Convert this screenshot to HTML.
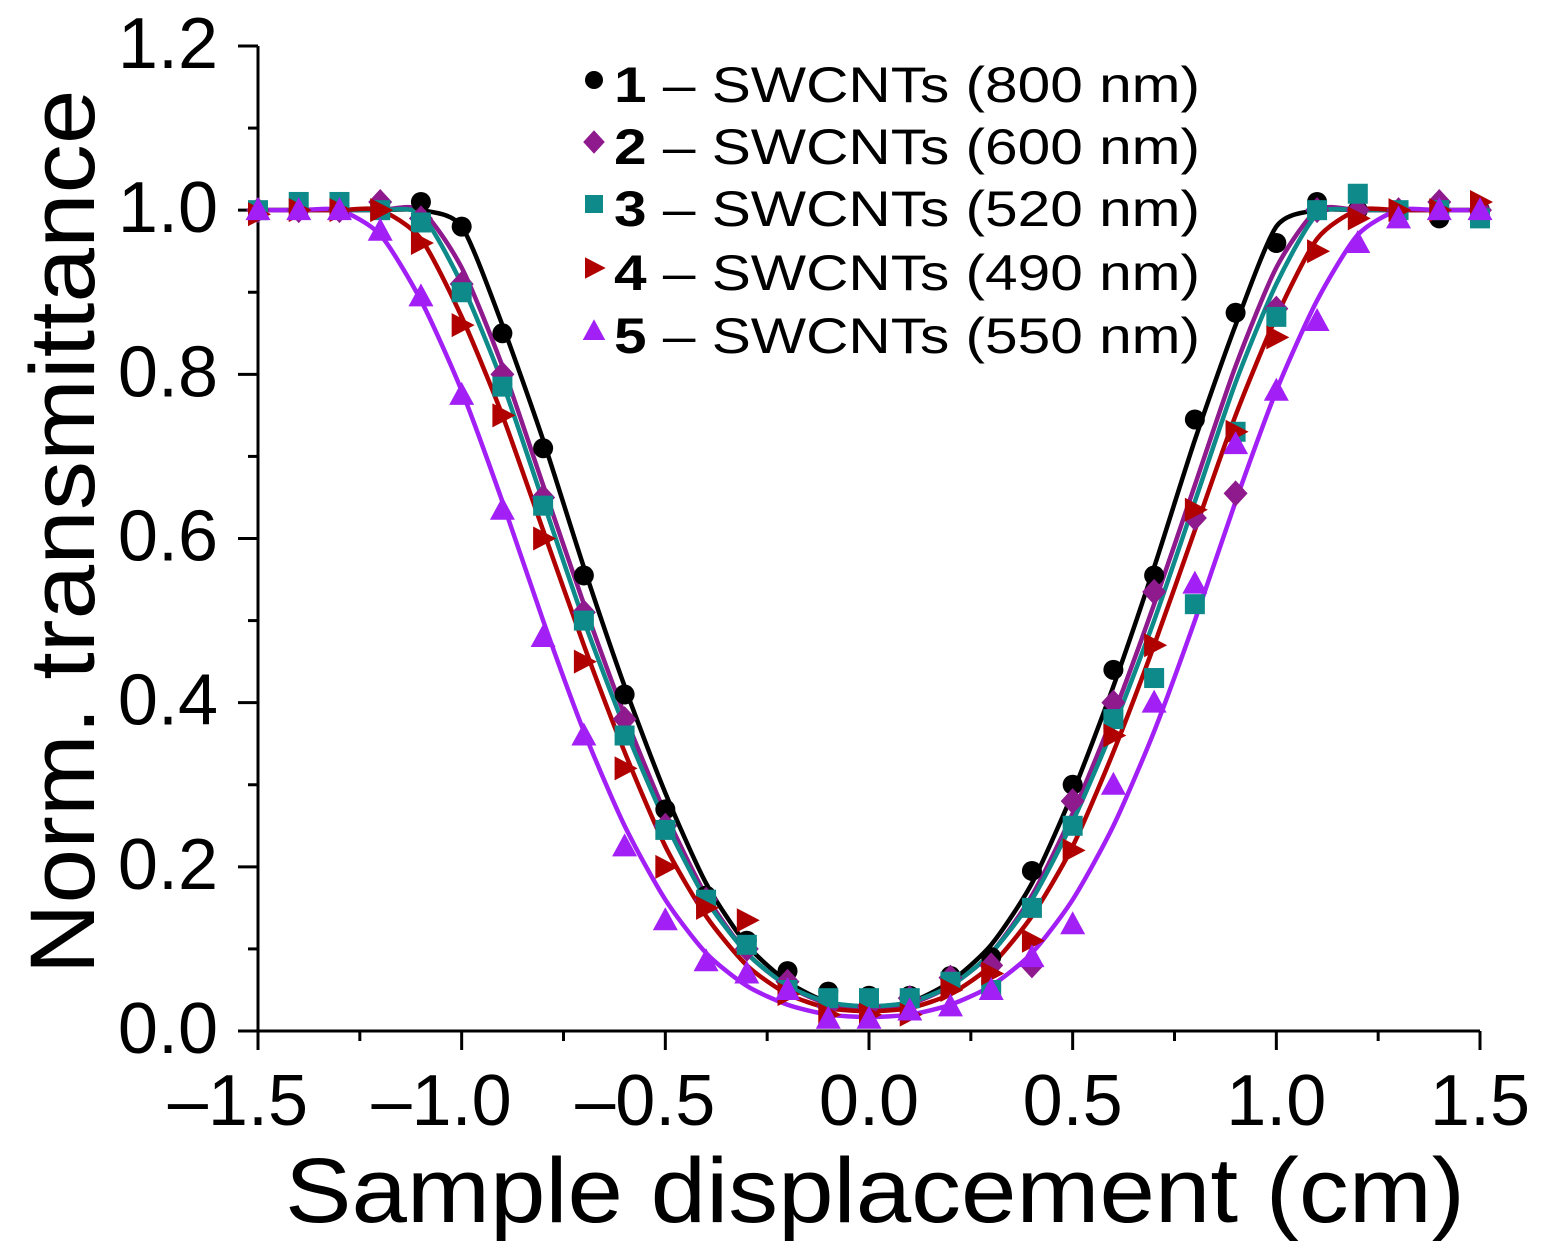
<!DOCTYPE html>
<html><head><meta charset="utf-8"><style>
html,body{margin:0;padding:0;background:#fff;}
svg{display:block;font-family:"Liberation Sans",Arial,sans-serif;}
</style></head><body>
<svg id="chart" width="1547" height="1260" viewBox="0 0 1547 1260">
<g id="axes"></g>
<g id="fits"></g>
<g id="points"></g>
<g id="legend"></g>
<text x="875" y="1222" font-size="92" text-anchor="middle" textLength="1180" lengthAdjust="spacingAndGlyphs">Sample displacement (cm)</text>
<text transform="translate(94,532) rotate(-90)" font-size="92" text-anchor="middle" textLength="885" lengthAdjust="spacingAndGlyphs">Norm. transmittance</text>
</svg>
<script>
const xs=[-1.5,-1.4,-1.3,-1.2,-1.1,-1.0,-0.9,-0.8,-0.7,-0.6,-0.5,-0.4,-0.3,-0.2,-0.1,0,0.1,0.2,0.3,0.4,0.5,0.6,0.7,0.8,0.9,1.0,1.1,1.2,1.3,1.4,1.5];
const data1=[1,1,1,1,1.01,0.98,0.85,0.71,0.555,0.41,0.27,0.165,0.11,0.073,0.048,0.043,0.043,0.067,0.09,0.195,0.30,0.44,0.555,0.745,0.875,0.96,1.01,1,1,0.99,1];
const data2=[1,1,1,1.01,0.99,0.91,0.80,0.65,0.51,0.38,0.25,0.16,0.10,0.06,0.03,0.03,0.04,0.065,0.08,0.08,0.28,0.40,0.535,0.625,0.655,0.88,1.0,1.0,1.0,1.01,1.0];
const data3=[1.0,1.01,1.01,1.0,0.985,0.90,0.785,0.64,0.50,0.36,0.245,0.16,0.105,0.05,0.04,0.04,0.04,0.06,0.05,0.15,0.25,0.38,0.43,0.52,0.73,0.87,1.0,1.02,1.0,1.0,0.99];
const data4=[0.995,1.0,1.0,1.0,0.96,0.86,0.75,0.60,0.45,0.32,0.20,0.15,0.135,0.045,0.02,0.02,0.02,0.05,0.07,0.11,0.22,0.36,0.47,0.635,0.73,0.845,0.95,0.99,1.0,1.0,1.01];
const data5=[1.0,1.0,1.0,0.975,0.895,0.775,0.635,0.48,0.36,0.225,0.135,0.085,0.07,0.05,0.015,0.015,0.025,0.03,0.05,0.09,0.13,0.30,0.40,0.545,0.715,0.78,0.865,0.96,0.99,1.0,1.0];
const fit1=[1,1,1,1,1,0.98,0.86,0.72,0.565,0.42,0.29,0.18,0.105,0.06,0.035,0.03,0.035,0.06,0.105,0.18,0.29,0.42,0.565,0.72,0.86,0.98,1,1,1,1,1];
const fit2=[1,1,1,1,1,0.93,0.81,0.665,0.52,0.385,0.265,0.165,0.095,0.055,0.033,0.028,0.033,0.055,0.095,0.165,0.265,0.385,0.52,0.665,0.81,0.93,1,1,1,1,1];
const fit3=[1,1,1,1,0.995,0.91,0.79,0.645,0.50,0.37,0.255,0.16,0.095,0.055,0.035,0.03,0.035,0.055,0.095,0.16,0.255,0.37,0.50,0.645,0.79,0.91,0.995,1,1,1,1];
const fit4=[1,1,1,1,0.965,0.87,0.75,0.61,0.47,0.34,0.225,0.14,0.08,0.045,0.028,0.024,0.028,0.045,0.08,0.14,0.225,0.34,0.47,0.61,0.75,0.87,0.965,1,1,1,1];
const fit5=[1,1,1,0.97,0.89,0.78,0.645,0.50,0.365,0.25,0.16,0.095,0.055,0.032,0.02,0.017,0.02,0.032,0.055,0.095,0.16,0.25,0.365,0.50,0.645,0.78,0.89,0.97,1,1,1];
const xTicks=[-1.5,-1.0,-0.5,0.0,0.5,1.0,1.5];
const xTickLabels=["\u20131.5","\u20131.0","\u20130.5","0.0","0.5","1.0","1.5"];
const yTicks=[0,0.2,0.4,0.6,0.8,1.0,1.2];
const yTickLabels=["0.0","0.2","0.4","0.6","0.8","1.0","1.2"];
const seriesNames=["1","2","3","4","5"];
const seriesLabels=[" \u2013 SWCNTs (800 nm)"," \u2013 SWCNTs (600 nm)"," \u2013 SWCNTs (520 nm)"," \u2013 SWCNTs (490 nm)"," \u2013 SWCNTs (550 nm)"];

const NS="http://www.w3.org/2000/svg";
const X0=258,X1=1480,Y0=1031,Y1=46;
const sx=v=>X0+(v+1.5)/3*(X1-X0);
const sy=v=>Y0-v/1.2*(Y0-Y1);
function mk(tag,attrs,parent){const e=document.createElementNS(NS,tag);for(const k in attrs)e.setAttribute(k,attrs[k]);parent.appendChild(e);return e;}
const axes=document.getElementById('axes');
let e=mk('line',{x1:X0,y1:Y0,x2:X1,y2:Y0,stroke:'#000','stroke-width':3},axes);


e=mk('line',{x1:X0,y1:Y1,x2:X0,y2:Y0,stroke:'#000','stroke-width':3},axes);


xTicks.forEach((t,i)=>{
  let l=mk('line',{x1:sx(t),y1:Y0,x2:sx(t),y2:Y0+19,stroke:'#000','stroke-width':3},axes);
  
  
  if(i<xTicks.length-1){let m=mk('line',{x1:sx(t+0.25),y1:Y0,x2:sx(t+0.25),y2:Y0+10,stroke:'#000','stroke-width':3},axes);
  
  }
  let tx=mk('text',{x:sx(t)+50,y:1125,'font-size':72,'text-anchor':'end'},axes);tx.textContent=xTickLabels[i];
  
  
});
yTicks.forEach((t,i)=>{
  let l=mk('line',{x1:X0-20,y1:sy(t),x2:X0,y2:sy(t),stroke:'#000','stroke-width':3},axes);
  
  
  if(i<yTicks.length-1){let m=mk('line',{x1:X0-10,y1:sy(t+0.1),x2:X0,y2:sy(t+0.1),stroke:'#000','stroke-width':3},axes);
  
  }
  let tx=mk('text',{x:218,y:sy(t)+22,'font-size':72,'text-anchor':'end'},axes);tx.textContent=yTickLabels[i];
  
  
});
const colors=['#000000','#8e1a8e','#0e8a8a','#b00000','#a21ff5'];
const datas=[data1,data2,data3,data4,data5];
const fits=[fit1,fit2,fit3,fit4,fit5];
const shapes=['circle','diamond','square','tri-right','tri-up'];
function smooth(pts){let d='M'+pts[0][0]+','+pts[0][1];
  for(let i=0;i<pts.length-1;i++){const p0=pts[Math.max(0,i-1)],p1=pts[i],p2=pts[i+1],p3=pts[Math.min(pts.length-1,i+2)];
    const t=0.12;
    d+=' C'+(p1[0]+(p2[0]-p0[0])*t)+','+(p1[1]+(p2[1]-p0[1])*t)+' '+(p2[0]-(p3[0]-p1[0])*t)+','+(p2[1]-(p3[1]-p1[1])*t)+' '+p2[0]+','+p2[1];}
  return d;}
function marker(shape,cx,cy,r,color,parent){
  let m;
  if(shape==='circle')m=mk('circle',{cx:cx,cy:cy,r:r,fill:color},parent);
  else if(shape==='square')m=mk('rect',{x:cx-r,y:cy-r,width:2*r,height:2*r,fill:color},parent);
  else if(shape==='diamond')m=mk('polygon',{points:`${cx},${cy-r*1.3} ${cx+r*1.2},${cy} ${cx},${cy+r*1.3} ${cx-r*1.2},${cy}`,fill:color},parent);
  else if(shape==='tri-right')m=mk('polygon',{points:`${cx-r},${cy-r*1.2} ${cx+r*1.3},${cy} ${cx-r},${cy+r*1.2}`,fill:color},parent);
  else m=mk('polygon',{points:`${cx},${cy-r*1.3} ${cx+r*1.25},${cy+r} ${cx-r*1.25},${cy+r}`,fill:color},parent);
  return m;}
const fg=document.getElementById('fits'),pg=document.getElementById('points');
for(let s=0;s<5;s++){
  const pts=xs.map((x,i)=>[sx(x),sy(fits[s][i])]);
  let p=mk('path',{d:smooth(pts),fill:'none',stroke:colors[s],'stroke-width':4.5},fg);
  
  
}
for(let s=0;s<5;s++){
  xs.forEach((x,i)=>{
    let m=marker(shapes[s],sx(x),sy(datas[s][i]),10,colors[s],pg);
    
    
  });
}
const lg=document.getElementById('legend');
const rows=[102,164,226,290,353];
for(let s=0;s<5;s++){
  let m=marker(shapes[s],594,rows[s]-22,9,colors[s],lg);
  
  
  let t=mk('text',{x:614,y:rows[s],'font-size':50,textLength:586,lengthAdjust:'spacingAndGlyphs'},lg);
  
  
  let b=mk('tspan',{'font-weight':'bold'},t);b.textContent=seriesNames[s];
  let r=mk('tspan',{},t);r.textContent=seriesLabels[s];
}
</script>
</body></html>
